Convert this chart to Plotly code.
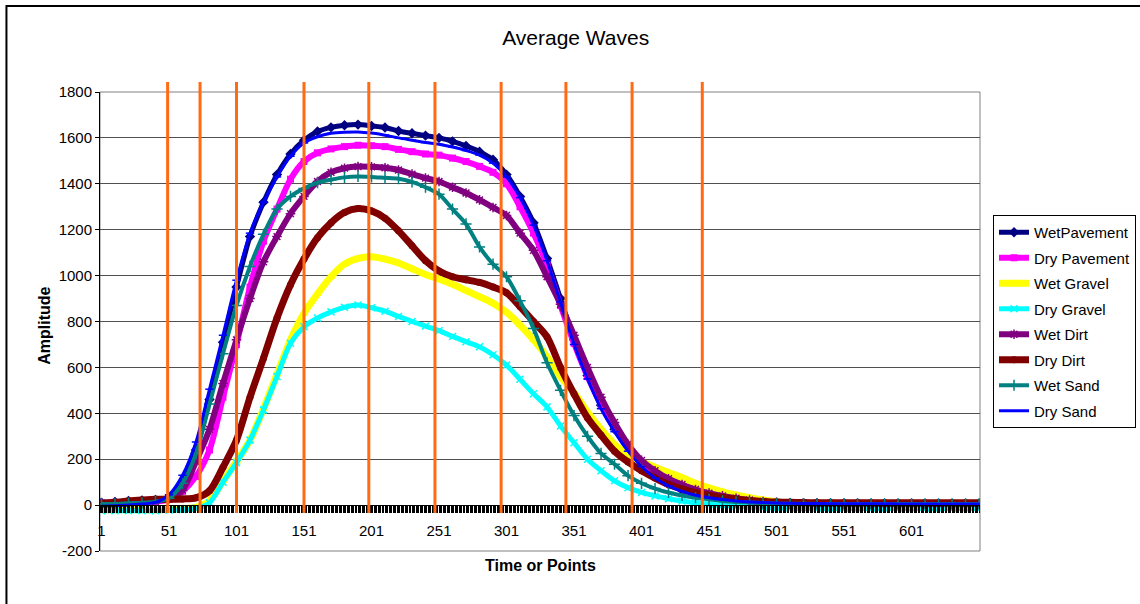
import plotly.graph_objects as go

# Sample index along the recording (every 10th point of 651)
points = list(range(1, 652, 10))

wet_pavement = [10, 14, 18, 20, 22, 35, 100, 240, 460, 710,
                950, 1170, 1320, 1440, 1530, 1590, 1628, 1646, 1655, 1658,
                1652, 1645, 1630, 1620, 1610, 1600, 1585, 1565, 1540, 1505,
                1440, 1345, 1230, 1075, 900, 720, 565, 435, 330, 245,
                178, 128, 92, 66, 48, 36, 27, 20, 15, 12,
                10, 9, 8, 8, 7, 7, 7, 6, 6, 6,
                6, 5, 5, 5, 5, 5]
dry_pavement = [8, 10, 12, 14, 16, 25, 60, 125, 240, 470,
                700, 950, 1150, 1290, 1420, 1497, 1535, 1552, 1562, 1568,
                1566, 1562, 1550, 1540, 1530, 1525, 1512, 1497, 1476, 1450,
                1400, 1300, 1185, 1045, 870, 705, 560, 440, 335, 250,
                182, 133, 98, 73, 55, 42, 32, 24, 18, 14,
                10, 8, 7, 6, 6, 5, 5, 5, 4, 4,
                4, 4, 4, 4, 4, 4]
wet_gravel = [-20, -20, -20, -20, -20, -18, -15, -10, 20, 105,
              190, 283, 420, 570, 720, 836, 920, 995, 1050, 1075,
              1082, 1072, 1055, 1030, 1005, 985, 962, 935, 908, 880,
              840, 785, 720, 646, 560, 490, 405, 330, 265, 222,
              190, 165, 142, 120, 95, 75, 58, 44, 32, 22,
              14, 7, 2, -2, -5, -7, -8, -9, -10, -10,
              -10, -11, -11, -11, -11, -11]
dry_gravel = [-25, -25, -25, -25, -25, -22, -20, -14, 10, 100,
              185, 283, 415, 560, 705, 777, 815, 842, 862, 872,
              860, 845, 822, 800, 780, 760, 735, 712, 690, 655,
              610, 548, 485, 428, 345, 272, 200, 150, 106, 76,
              55, 40, 28, 18, 10, 4, -1, -5, -8, -10,
              -12, -13, -14, -14, -15, -15, -15, -15, -15, -15,
              -15, -15, -15, -15, -15, -15]
wet_dirt = [10, 12, 14, 16, 18, 30, 65, 190, 330, 530,
            720, 900, 1060, 1170, 1270, 1345, 1410, 1450, 1468, 1475,
            1474, 1470, 1460, 1442, 1425, 1410, 1385, 1360, 1330, 1297,
            1262, 1185, 1110, 995, 875, 740, 600, 470, 360, 265,
            195, 150, 115, 90, 68, 52, 40, 30, 22, 16,
            12, 10, 9, 8, 8, 7, 7, 7, 6, 6,
            6, 6, 6, 6, 6, 6]
dry_dirt = [8, 12, 18, 22, 25, 25, 27, 32, 62, 165,
            283, 470, 640, 815, 960, 1072, 1165, 1230, 1275, 1292,
            1282, 1250, 1195, 1130, 1065, 1020, 995, 982, 970, 950,
            925, 865, 800, 733, 600, 485, 380, 305, 235, 188,
            150, 118, 90, 70, 54, 42, 33, 26, 20, 16,
            13, 12, 11, 10, 10, 10, 10, 10, 10, 10,
            10, 10, 10, 10, 10, 10]
wet_sand = [5, 5, 8, 10, 15, 30, 95, 225, 440, 660,
            870, 1040, 1180, 1290, 1345, 1380, 1405, 1418, 1428, 1432,
            1430, 1426, 1422, 1408, 1385, 1355, 1290, 1225, 1125, 1050,
            995, 890, 770, 620, 500, 390, 300, 225, 178, 128,
            95, 72, 55, 42, 32, 25, 18, 14, 11, 9,
            7, 6, 6, 5, 5, 5, 5, 5, 5, 5,
            5, 5, 5, 5, 5, 5]
dry_sand = [-5, -3, 0, 5, 12, 45, 130, 275, 505, 740,
            980, 1185, 1320, 1430, 1520, 1578, 1605, 1620, 1625, 1626,
            1621, 1612, 1600, 1590, 1580, 1572, 1560, 1545, 1525, 1490,
            1430, 1340, 1220, 1065, 885, 700, 550, 420, 320, 235,
            168, 118, 84, 60, 43, 32, 24, 18, 14, 11,
            9, 8, 7, 7, 6, 6, 6, 6, 6, 5,
            5, 5, 5, 5, 5, 5]

tick_labels = [1, 51, 101, 151, 201, 251, 301, 351, 401, 451, 501, 551, 601]
amp_ticks = [-200, 0, 200, 400, 600, 800, 1000, 1200, 1400, 1600, 1800]
window_marks = [50, 74, 101, 151, 199, 248, 297, 345, 394, 446]

series = [
    ("WetPavement", wet_pavement, "#000080", "diamond", 5, 8),
    ("Dry Pavement", dry_pavement, "#FF00FF", "square", 6, 7),
    ("Wet Gravel", wet_gravel, "#FFFF00", "triangle-up", 7, 8),
    ("Dry Gravel", dry_gravel, "#00FFFF", "x-thin", 5, 7),
    ("Wet Dirt", wet_dirt, "#800080", "asterisk", 6, 8),
    ("Dry Dirt", dry_dirt, "#800000", "circle", 7, 7),
    ("Wet Sand", wet_sand, "#008080", "cross-thin", 4, 8),
    ("Dry Sand", dry_sand, "#0000FF", "line-ew", 3, 6),
]

FONT = "Liberation Sans, Arial, sans-serif"
fig = go.Figure()
for k, (name, vals, color, sym, lw, ms) in enumerate(series):
    open_sym = sym in ("x-thin", "asterisk", "cross-thin", "line-ew")
    fig.add_trace(go.Scatter(
        x=points, y=vals, name=name, mode="lines+markers", legendgroup=f"g{k}",
        line=dict(color=color, width=lw, shape="spline", smoothing=0.8),
        marker=dict(symbol=sym, size=ms, color=color,
                    line=dict(color=color, width=1.5 if open_sym else 0)),
    ))

# vertical window markers
for m in window_marks:
    fig.add_shape(type="line", xref="x", yref="paper", x0=m, x1=m,
                  y0=0.083, y1=1.022, line=dict(color="#FF6A13", width=3))

# plot-area frame
fig.add_shape(type="rect", xref="paper", yref="paper", x0=0, x1=1, y0=0, y1=1,
              line=dict(color="#808080", width=1), layer="below")
# chart-area frame
fig.add_shape(type="rect", xref="paper", yref="paper",
              x0=-0.1063, x1=1.19, y0=-0.13, y1=1.1874,
              line=dict(color="black", width=2))

fig.add_annotation(text="<b>Time or Points</b>", xref="paper", yref="paper",
                   x=0.5, y=-0.0545, showarrow=False,
                   font=dict(family=FONT, size=16, color="black"))
fig.add_annotation(text="<b>Amplitude</b>", xref="paper", yref="paper",
                   x=-0.076, y=0.49, showarrow=False, textangle=-90,
                   font=dict(family=FONT, size=16, color="black"))

fig.update_layout(
    width=1140, height=604,
    margin=dict(l=100, r=160, t=92, b=53, autoexpand=False),
    paper_bgcolor="white", plot_bgcolor="white",
    font=dict(family=FONT, size=15, color="black"),
    title=dict(text="Average Waves", x=0.505, xref="container", xanchor="center",
               y=1 - 38 / 604, yref="container", yanchor="middle",
               font=dict(family=FONT, size=21, color="black")),
    showlegend=True,
    legend=dict(x=1.0148, y=0.732, xanchor="left", yanchor="top",
                traceorder="grouped", tracegroupgap=3,
                bordercolor="black", borderwidth=1, bgcolor="white",
                font=dict(family=FONT, size=15, color="black")),
    xaxis=dict(range=[-0.1, 651.7], tickmode="array", tickvals=tick_labels,
               ticktext=[str(t) for t in tick_labels],
               anchor="free", position=0.1, showgrid=False, zeroline=False,
               showline=True, linecolor="black", linewidth=1,
               ticks="outside", ticklen=7, tickcolor="black", tickwidth=1,
               ticklabelstandoff=5,
               minor=dict(ticks="outside", tickmode="linear", tick0=1, dtick=1,
                          ticklen=7, tickcolor="black", tickwidth=1, showgrid=False)),
    yaxis=dict(range=[-200, 1800], tickmode="array", tickvals=amp_ticks,
               ticktext=[str(t) for t in amp_ticks],
               showgrid=True, gridcolor="#505050",
               gridwidth=1, zeroline=False, showline=True, linecolor="black",
               linewidth=1, ticks="outside", ticklen=4, tickcolor="black"),
)

fig.write_html("out.html")
